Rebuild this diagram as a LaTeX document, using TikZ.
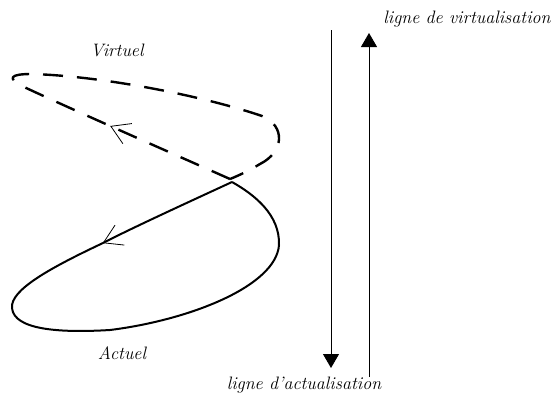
\documentclass[tikz,border=0pt]{standalone}
\usetikzlibrary{arrows.meta,decorations.markings}
\tikzset{
    label text/.style={font=\fontsize{18}{21}\selectfont\itshape, inner sep=0pt},
    axis arrow/.style={line width=0.9pt, -{Triangle[width=16pt,length=14pt]}},
    loop line/.style={line width=2pt, line join=round},
    mid barb/.style={postaction={decorate}, decoration={markings,
        mark=at position #1 with {\arrow{Straight Barb[length=18pt,width=22pt,line width=0.8pt]}}}}
}

\begin{document}
\begin{tikzpicture}[x=1pt,y=-1pt]
    \useasboundingbox (0,0) rectangle (554,397);

    % Lines
    \coordinate (actStart) at (331,30);
    \coordinate (actEnd)   at (331,368);
    \coordinate (virStart) at (369,377);
    \coordinate (virEnd)   at (369,33);
    \draw [axis arrow] (actStart) -- (actEnd);
    \draw [axis arrow] (virStart) -- (virEnd);

    % Virtual loop
    \draw [loop line, line width=2.4pt, dash pattern=on 20pt off 14pt, mid barb=131pt]
        (230,179) .. controls (160,148) and (80,113) .. (24,87)
        .. controls (6,78) and (10,74) .. (32,74)
        .. controls (100,76) and (200,95) .. (262,116)
        .. controls (286,126) and (284,152) .. (260,164)
        .. controls (250,170) and (240,175) .. (230,179);

    % Actual loop
    \draw [loop line, mid barb=143pt]
        (232,182) .. controls (180,206) and (130,229) .. (103,243)
        .. controls (50,268) and (10,290) .. (12,308)
        .. controls (14,330) and (60,333) .. (110,330)
        .. controls (190,320) and (276,286) .. (279,245)
        .. controls (280,215) and (255,195) .. (232,182);

    % Labels
    \node [label text] (virtuel)  at (117,50)  {Virtuel};
    \node [label text] (actuel)   at (122,353) {Actuel};
    \node [label text] (lignevir) at (467,19)  {ligne de virtualisation};
    \node [label text] (ligneact) at (304,385) {ligne d'actualisation};
\end{tikzpicture}
\end{document}
